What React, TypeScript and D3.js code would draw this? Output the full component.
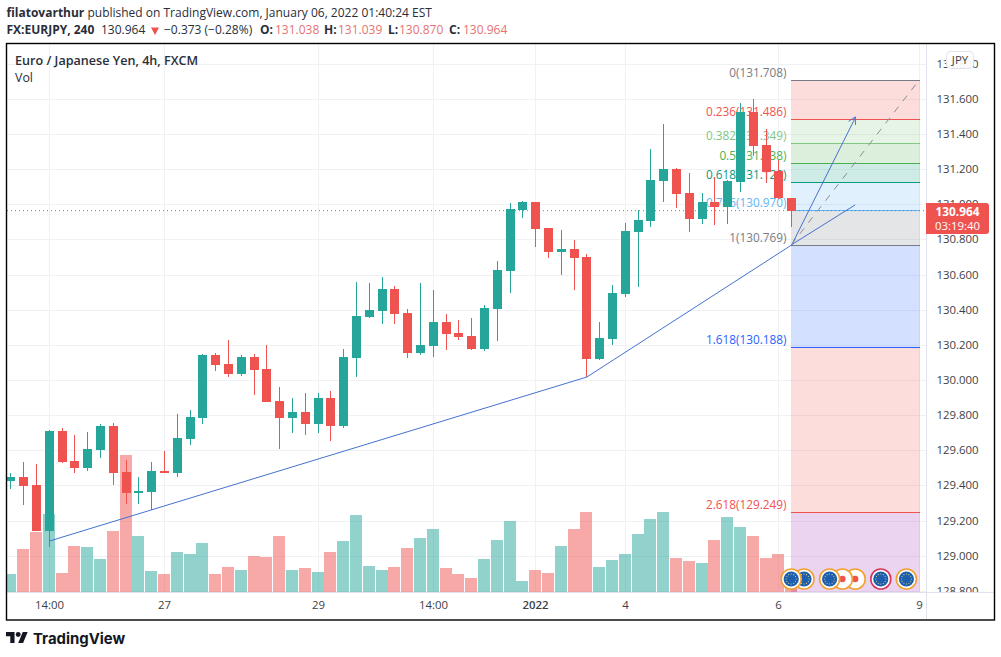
import React from "react";
import * as d3 from "d3";

const opens = [129.425,129.448,129.402,129.140,129.710,129.539,129.499,129.601,129.738,129.476,129.356,129.362,129.482,129.470,129.664,129.784,130.142,130.091,130.034,130.131,130.063,129.880,129.784,129.818,129.749,129.897,129.738,130.125,130.359,130.393,130.518,130.382,130.154,130.194,130.330,130.268,130.251,130.177,130.404,130.621,130.968,131.014,130.866,130.729,130.746,130.700,130.120,130.233,130.490,130.843,130.906,131.133,131.202,131.065,130.917,131.014,130.985,131.128,131.526,131.338,131.190,131.038];
const highs = [129.469,129.531,129.522,129.715,129.725,129.687,129.704,129.749,129.755,129.544,129.448,129.533,129.596,129.806,129.829,130.148,130.154,130.228,130.142,130.148,130.199,129.960,129.897,129.926,129.926,129.937,130.177,130.558,130.552,130.587,130.535,130.404,130.552,130.513,130.376,130.342,130.353,130.427,130.678,131.008,131.019,131.016,130.866,130.854,130.797,130.718,130.330,130.541,130.894,130.968,131.316,131.458,131.207,131.179,131.065,131.156,131.139,131.578,131.600,131.429,131.253,131.039];
const lows = [129.381,129.290,129.138,129.051,129.529,129.470,129.482,129.556,129.402,129.294,129.294,129.260,129.468,129.448,129.630,129.749,130.051,130.017,130.023,129.915,129.873,129.607,129.698,129.687,129.698,129.653,129.727,130.017,130.353,130.319,130.319,130.125,130.142,130.131,130.171,130.228,130.171,130.165,130.222,130.495,130.923,130.757,130.695,130.598,130.513,130.017,130.114,130.199,130.473,130.530,130.871,131.014,130.980,130.843,130.888,130.883,130.888,131.071,131.276,131.122,131.030,130.870];
const closes = [129.448,129.396,129.140,129.710,129.533,129.499,129.607,129.738,129.470,129.356,129.368,129.482,129.470,129.670,129.789,130.142,130.085,130.034,130.131,130.057,129.875,129.784,129.818,129.749,129.897,129.738,130.131,130.364,130.399,130.518,130.376,130.154,130.199,130.330,130.262,130.245,130.177,130.410,130.626,130.974,131.014,130.860,130.729,130.746,130.695,130.120,130.239,130.495,130.849,130.911,131.139,131.202,131.059,130.917,131.014,130.985,131.133,131.526,131.333,131.185,131.036,130.964];
const volumes = [18,43,60,78,19,46,45,33,61,137,56,21,18,40,38,49,18,25,22,36,35,56,22,24,20,40,51,77,26,22,25,44,54,63,24,18,14,33,52,71,11,22,19,46,63,80,25,32,38,58,73,80,34,31,29,52,75,65,56,34,38,22];
const volumeUp = [1,0,0,1,0,0,1,1,0,0,1,1,0,1,1,1,0,0,1,0,0,0,1,0,1,0,1,1,1,1,0,0,1,1,0,0,0,1,1,1,1,0,0,1,0,0,1,1,1,1,1,1,0,0,1,0,1,1,0,0,0,0];

const priceTicks = [128.8,129,129.2,129.4,129.6,129.8,130,130.2,130.4,130.6,130.8,131,131.2,131.4,131.6,131.8];
const timeTickIndex = [3,12,24,33,41,48,60,71];
const timeTickLabels = ["14:00","27","29","14:00","2022","4","6","9"];

const fibRatios = [0,0.236,0.382,0.5,0.618,0.786,1,1.618,2.618,3.618];
const fibPrices = [131.708,131.486,131.349,131.238,131.128,130.970,130.769,130.188,129.249,128.310];
const fibColors = ["#787b86","#ef5350","#81c784","#4caf50","#089981","#64b5f6","#787b86","#2962ff","#ef5350","#9c27b0"];

const trendIndex = [3,45,61,66];
const trendPrice = [129.083,130.017,130.769,131.498];
const forkEnd = [66,130.997];
const diagEnd = [71,131.708];

const eventIndex = [62,61,66,65,64,68,70];
const eventKind = ["eu","eu","dot","dot","eu","eu-red","eu"];

const lastPrice = 130.964;
const FONT = "'Open Sans', 'Noto Sans', sans-serif";
const TEAL = "#26a69a";
const RED = "#ef5350";
const GRID = "#eff1f5";
const TXT = "#3c3f48";

const left = 7, right = 926, top = 44, bottom = 592;

export default function App() {
  const xs = d3.scaleLinear().domain([0, 61]).range([10.4, 791.2]);
  const ys = d3.scaleLinear().domain([130, 131.708]).range([380, 80]);
  const yv = d3.scaleLinear().domain([0, 80]).range([bottom, 512]);
  const cx = (i: number) => Math.round(xs(i));
  const py = (p: number) => Math.round(ys(p));

  const trend = d3.line<number>().x((_, i) => xs(trendIndex[i]) + 0.5).y((_, i) => ys(trendPrice[i]))(trendIndex);
  const fx0 = xs(61) , fx1 = xs(71) + 0.5;
  const tipX = xs(66), tipY = ys(131.498), fromX = xs(61), fromY = ys(130.769);
  const ang = Math.atan2(tipY - fromY, tipX - fromX);
  const head = [-0.5, 0.5].map((a) => [tipX - 8 * Math.cos(ang + a), tipY - 8 * Math.sin(ang + a)]);

  return (
    <svg width={1001} height={657} style={{ position: "absolute", left: 0, top: 0, display: "block", background: "#fff" }} fontFamily={FONT}>
      <defs>
        <clipPath id="plot"><rect x={left} y={top} width={right - left} height={bottom - top} /></clipPath>
        <clipPath id="axis"><rect x={right} y={top} width={68} height={bottom - top} /></clipPath>
      </defs>

      <text x={6.5} y={17} fontSize={12} fill="#2a2e39">
        <tspan fontWeight={700}>filatovarthur</tspan> published on TradingView.com, January 06, 2022 01:40:24 EST
      </text>
      <g fontSize={12} fill="#2a2e39">
        <text x={6.5} y={34} fontWeight={700}>FX:EURJPY, 240</text>
        <text x={101} y={34}>130.964</text>
        <path d={`M151 27.5h8l-4 7.5z`} fill={RED} />
        <text x={164} y={34}>−0.373 (−0.28%)</text>
        <text x={260} y={34} fontWeight={700}>O:</text>
        <text x={275} y={34} fill="#e57373">131.038</text>
        <text x={324} y={34} fontWeight={700}>H:</text>
        <text x={338} y={34} fill="#e57373">131.039</text>
        <text x={388} y={34} fontWeight={700}>L:</text>
        <text x={399} y={34} fill="#e57373">130.870</text>
        <text x={449} y={34} fontWeight={700}>C:</text>
        <text x={463} y={34} fill="#e57373">130.964</text>
      </g>

      <g shapeRendering="crispEdges">
        {priceTicks.map((p) => <rect key={p} x={left} y={py(p)} width={right - left} height={1} fill={GRID} />)}
        {timeTickIndex.map((t) => <rect key={t} x={cx(t)} y={top} width={1} height={bottom - top} fill={GRID} />)}
      </g>

      <g clipPath="url(#plot)">
        <g shapeRendering="crispEdges">
          {volumes.map((v, i) => (
            <rect key={i} x={cx(i) - 6} y={yv(v)} width={12} height={bottom - yv(v)} fill={volumeUp[i] ? TEAL : RED} opacity={0.5} />
          ))}
        </g>

        <g shapeRendering="crispEdges">
          {fibPrices.slice(0, -1).map((p, i) => (
            <rect key={p} x={xs(61)} y={ys(p)} width={fx1 - fx0} height={ys(fibPrices[i + 1]) - ys(p)} fill={fibColors[i + 1]} opacity={0.2} />
          ))}
          {fibPrices.slice(0, -1).map((p, i) => (
            <rect key={p} x={xs(61)} y={py(p)} width={fx1 - fx0} height={1} fill={fibColors[i]} />
          ))}
        </g>

        <g fontSize={11.8} textAnchor="end">
          {fibPrices.slice(0, -1).map((p, i) => (
            <text key={p} x={786.5} y={py(p) - 3.5} fill={fibColors[i]}>{`${fibRatios[i]}(${p.toFixed(3)})`}</text>
          ))}
        </g>

        <line x1={left} x2={right} y1={ys(lastPrice)} y2={ys(lastPrice)} stroke={RED} strokeWidth={1} strokeDasharray="1 3" />

        <g shapeRendering="crispEdges">
          {opens.map((o, i) => {
            const up = closes[i] >= o;
            const c = up ? TEAL : RED;
            const t = py(Math.max(o, closes[i]));
            const b = py(Math.min(o, closes[i]));
            return (
              <g key={i}>
                <rect x={cx(i)} y={py(highs[i])} width={1} height={py(lows[i]) - py(highs[i])} fill={c} />
                <rect x={cx(i) - 4} y={t} width={9} height={Math.max(b - t, 1)} fill={c} />
              </g>
            );
          })}
        </g>

        <path d={trend ?? ""} fill="none" stroke="#4472cf" strokeWidth={1} />
        <line x1={fromX} y1={fromY} x2={xs(forkEnd[0])} y2={ys(forkEnd[1])} stroke="#4472cf" strokeWidth={1} />
        <line x1={fromX} y1={fromY} x2={xs(diagEnd[0])} y2={ys(diagEnd[1])} stroke="#8a8d96" strokeWidth={1} strokeDasharray="7 7" />
        <path d={`M${head[0][0]} ${head[0][1]}L${tipX} ${tipY}L${head[1][0]} ${head[1][1]}`} fill="none" stroke="#4472cf" strokeWidth={1} />

        {eventIndex.map((e, k) => {
          const x = xs(e), y = 579, kind = eventKind[k];
          return (
            <g key={k}>
              <circle cx={x} cy={y} r={10} fill="#fff" stroke={kind === "eu-red" ? "#d9345a" : "#f2a030"} strokeWidth={1.6} />
              {kind === "dot" ? (
                <circle cx={x} cy={y} r={3.2} fill={RED} />
              ) : (
                <g>
                  <circle cx={x} cy={y} r={7.6} fill="#1b5fae" />
                  {d3.range(12).map((s) => (
                    <circle key={s} cx={x + 5 * Math.cos((s * Math.PI) / 6)} cy={y + 5 * Math.sin((s * Math.PI) / 6)} r={0.55} fill="#e8d77a" />
                  ))}
                </g>
              )}
            </g>
          );
        })}
      </g>

      <text x={15} y={65} fontSize={12.6} fontWeight={600} fill="#2a2e39">Euro / Japanese Yen, 4h, FXCM</text>
      <text x={15} y={82} fontSize={12.4} fill="#2a2e39">Vol</text>

      <g shapeRendering="crispEdges">
        <rect x={right} y={top} width={1} height={575} fill="#e0e3eb" />
        <rect x={left} y={bottom} width={987} height={1} fill="#e0e3eb" />
      </g>

      <g clipPath="url(#axis)" fontSize={11.4} fill={TXT}>
        {priceTicks.map((p) => <text key={p} x={936.5} y={ys(p) + 4}>{p.toFixed(3)}</text>)}
      </g>
      <g fontSize={11.4} fill={TXT} textAnchor="middle">
        {timeTickIndex.map((t, i) => (
          <text key={t} x={cx(t) + 0.5} y={609} fontWeight={timeTickLabels[i] === "2022" ? 600 : 400}>{timeTickLabels[i]}</text>
        ))}
      </g>

      <rect x={946.5} y={51.5} width={27} height={17} rx={4} fill="#fff" fillOpacity={0.92} stroke="#e0e3eb" />
      <text x={960} y={64} fontSize={11.4} fill={TXT} textAnchor="middle">JPY</text>

      <path d="M926 203H986a3 3 0 0 1 3 3V231a3 3 0 0 1-3 3H926z" fill={RED} />
      <text x={957.5} y={216} fontSize={11.8} fontWeight={700} fill="#fff" textAnchor="middle">{lastPrice.toFixed(3)}</text>
      <text x={957.5} y={230} fontSize={11.4} fill="#fff" textAnchor="middle">03:19:40</text>

      <rect x={6.5} y={43.5} width={988} height={576.5} fill="none" stroke="#000" strokeWidth={1.4} />

      <g transform="translate(6 629.6) scale(0.61)" fill="#131722">
        <path d="M14 22H7V11H0V4h14v18zM28 22h-8l7.5-18h8L28 22z" />
        <circle cx={20} cy={8} r={4} />
      </g>
      <text x={33} y={644} fontSize={14.9} fontWeight={700} fill="#131722" fontFamily="Inter, 'Open Sans', sans-serif">TradingView</text>
    </svg>
  );
}
